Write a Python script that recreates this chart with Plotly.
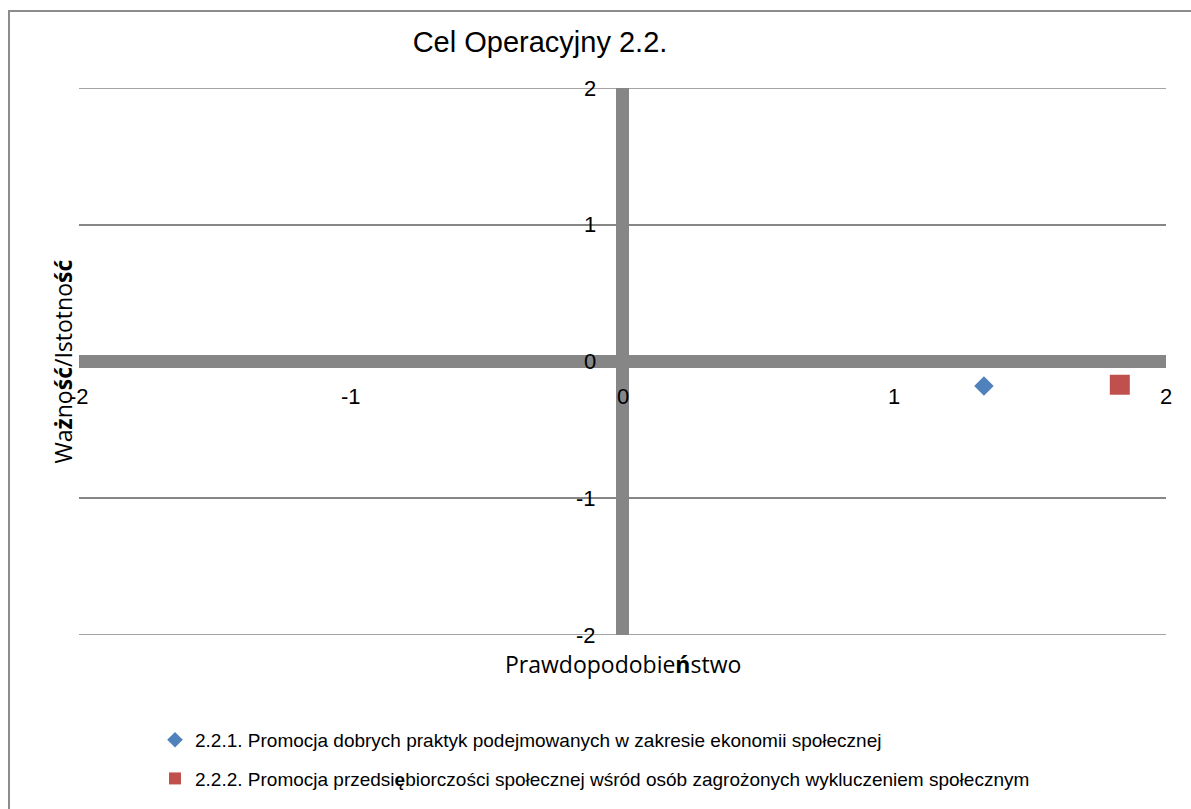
import plotly.graph_objects as go

# Risk-matrix points: likelihood (x) vs importance (y)
series_names = [
    "2.2.1. Promocja dobrych praktyk podejmowanych w zakresie ekonomii społecznej",
    "2.2.2. Promocja przedsi<b>ę</b>biorczości społecznej wśród osób zagrożonych wykluczeniem społecznym",
]
x_values = [1.33, 1.83]
y_values = [-0.18, -0.17]
series_colors = ["#4F81BD", "#C0504D"]
series_symbols = ["diamond", "square"]
series_sizes = [15, 20]

tick_values = [-2, -1, 0, 1, 2]
tick_labels = ["-2", "-1", "0", "1", "2"]

narrow = "Liberation Sans Narrow, Arial Narrow, Liberation Sans, sans-serif"
humanist = "Open Sans, Noto Sans, sans-serif"
grey = "#868686"

fig = go.Figure()
for i, name in enumerate(series_names):
    fig.add_trace(go.Scatter(
        x=[x_values[i]], y=[y_values[i]], mode="markers", name=name,
        legendgroup=f"g{i}",
        marker=dict(color=series_colors[i], symbol=series_symbols[i],
                    size=series_sizes[i], line=dict(width=0)),
    ))

# Tick labels sit next to the zero lines, as in a crossing-axes chart
annotations = []
for v, t in zip(tick_values, tick_labels):
    annotations.append(dict(x=v, y=0, xref="x", yref="y", text=t, showarrow=False,
                            yshift=-35, xanchor="center", yanchor="middle",
                            font=dict(family=narrow, size=22, color="#000")))
    annotations.append(dict(x=0, y=v, xref="x", yref="y", text=t, showarrow=False,
                            xshift=-25, xanchor="right", yanchor="middle",
                            font=dict(family=narrow, size=22, color="#000")))

annotations.append(dict(x=0, y=-2, xref="x", yref="y", text="Prawdopodobie<b>ń</b>stwo",
                        showarrow=False, yshift=-29, xanchor="center", yanchor="middle",
                        font=dict(family=humanist, size=23, color="#000")))
annotations.append(dict(x=0, y=0.5, xref="paper", yref="paper",
                        text="Wa<b>ż</b>no<b>ść</b>/Istotno<b>ść</b>",
                        showarrow=False, textangle=-90, xshift=-17,
                        xanchor="center", yanchor="middle",
                        font=dict(family=humanist, size=23, color="#000")))

# Horizontal grid lines at the outer ticks (the axis skips lines on the plot edges)
shapes = [dict(type="line", xref="x", yref="y", x0=tick_values[0], x1=tick_values[-1],
               y0=v, y1=v, line=dict(color=grey, width=1.5), layer="below")
          for v in (tick_values[0], tick_values[-1])]
shapes.append(dict(type="rect", xref="paper", yref="paper",
                   x0=-70 / 1087, x1=1.1, y0=-0.4, y1=1 + 77 / 547,
                   line=dict(color="#8c8c8c", width=2), fillcolor="rgba(0,0,0,0)",
                   layer="below"))

fig.update_layout(
    width=1191, height=809,
    margin=dict(l=79, r=25, t=88, b=174, autoexpand=False),
    paper_bgcolor="white", plot_bgcolor="white",
    title=dict(text="Cel Operacyjny 2.2.", x=540 / 1191, xref="container",
               xanchor="center", y=1 - 42 / 809, yanchor="middle",
               font=dict(family=narrow, size=29, color="#000")),
    xaxis=dict(range=[-2, 2], showgrid=False, showticklabels=False, ticks="",
               zeroline=True, zerolinecolor=grey, zerolinewidth=13, showline=False,
               fixedrange=True),
    yaxis=dict(range=[-2, 2], tickvals=tick_values, showgrid=True,
               gridcolor=grey, gridwidth=1.5, showticklabels=False, ticks="",
               zeroline=True, zerolinecolor=grey, zerolinewidth=13, showline=False,
               fixedrange=True),
    showlegend=True,
    legend=dict(x=(155 - 79) / 1087, xanchor="left", y=-0.157, yanchor="top",
                font=dict(family=narrow, size=19, color="#000"),
                itemsizing="constant", traceorder="grouped", tracegroupgap=11,
                bgcolor="rgba(0,0,0,0)"),
    annotations=annotations,
    shapes=shapes,
)

fig.write_html("out.html")
